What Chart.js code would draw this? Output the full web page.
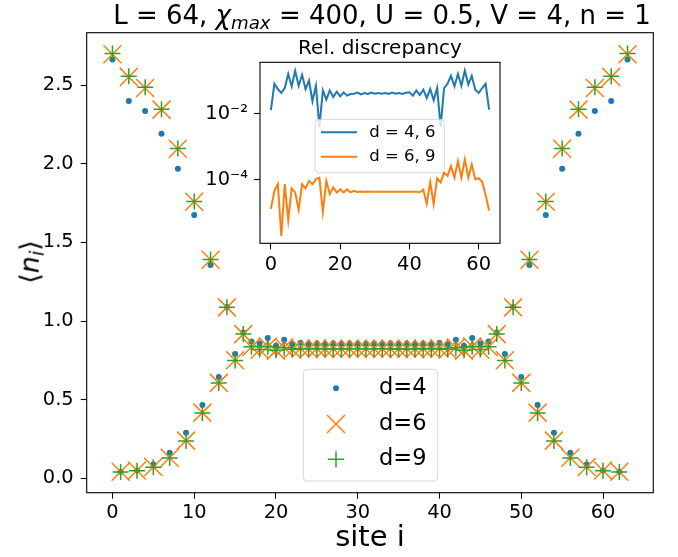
<!DOCTYPE html>
<html>
<head>
<meta charset="utf-8">
<script src="https://cdn.jsdelivr.net/npm/chart.js@4.4.1/dist/chart.umd.min.js"></script>
<style>
    html, body { margin:0; padding:0; background:#fff; }
    #wrap { position:relative; width:678px; height:557px; font-family:"DejaVu Sans", sans-serif; color:#000; overflow:hidden; }
    canvas { position:absolute; }
    #mainChart { left:0; top:0; }
    #insetChart { left:180px; top:30px; }
    .txt { position:absolute; white-space:nowrap; line-height:1; }
    #title { left:0; width:764px; top:2px; text-align:center; font-size:26px; }
    #ylabel { left:31px; top:262px; font-size:27px; transform:translate(-50%,-50%) rotate(-90deg); }
    #insetTitle { left:260px; width:240px; top:37px; text-align:center; font-size:20px; }
    sub { font-size:0.7em; vertical-align:-0.25em; }
</style>
</head>
<body>
<div id="wrap">
    <canvas id="mainChart" width="678" height="557"></canvas>
    <canvas id="insetChart" width="330" height="250"></canvas>
    <div id="title" class="txt">L = 64, <i>χ</i><sub><i>max</i></sub> = 400, U = 0.5, V = 4, n = 1</div>
    <div id="ylabel" class="txt">⟨<i>n</i><sub><i>i</i></sub>⟩</div>
    <div id="insetTitle" class="txt">Rel. discrepancy</div>
</div>
<script>
// -------------------- DATA --------------------
const sites = [0,1,2,3,4,5,6,7,8,9,10,11,12,13,14,15,16,17,18,19,20,21,22,23,24,25,26,27,28,29,30,31,
               32,33,34,35,36,37,38,39,40,41,42,43,44,45,46,47,48,49,50,51,52,53,54,55,56,57,58,59,60,61,62,63];
const xTicks = [0,10,20,30,40,50,60];
const yTicks = [0,0.5,1,1.5,2,2.5];
const yTickLabels = ["0.0","0.5","1.0","1.5","2.0","2.5"];
const mainLabels = ["d=4","d=6","d=9"];

// <n_i> per site
const densD4 = [2.662,0.042,2.399,0.050,2.335,0.089,2.191,0.163,1.968,0.290,1.675,0.467,1.357,0.645,1.090,0.790,
                0.927,0.870,0.857,0.892,0.843,0.881,0.853,0.862,0.855,0.858,0.855,0.857,0.856,0.857,0.856,0.857,
                0.857,0.856,0.857,0.856,0.857,0.855,0.858,0.855,0.862,0.853,0.881,0.843,0.892,0.857,0.870,0.927,
                0.790,1.090,0.645,1.357,0.467,1.675,0.290,1.968,0.163,2.191,0.089,2.335,0.050,2.399,0.042,2.662];
const densD6 = [2.696,0.042,2.552,0.050,2.482,0.072,2.344,0.131,2.095,0.240,1.758,0.418,1.390,0.607,1.087,0.751,
                0.917,0.835,0.818,0.838,0.812,0.832,0.818,0.826,0.821,0.825,0.822,0.824,0.823,0.824,0.823,0.824,
                0.824,0.823,0.824,0.823,0.824,0.822,0.825,0.821,0.826,0.818,0.832,0.812,0.838,0.818,0.835,0.917,
                0.751,1.087,0.607,1.390,0.418,1.758,0.240,2.095,0.131,2.344,0.072,2.482,0.050,2.552,0.042,2.696];
const densD9 = [2.700,0.040,2.556,0.049,2.486,0.070,2.347,0.129,2.097,0.238,1.760,0.416,1.392,0.606,1.088,0.750,
                0.918,0.836,0.820,0.837,0.815,0.830,0.821,0.826,0.822,0.825,0.823,0.824,0.823,0.824,0.824,0.824,
                0.824,0.824,0.824,0.823,0.824,0.823,0.825,0.822,0.826,0.821,0.830,0.815,0.837,0.820,0.836,0.918,
                0.750,1.088,0.606,1.392,0.416,1.760,0.238,2.097,0.129,2.347,0.070,2.486,0.049,2.556,0.040,2.700];

// inset: relative discrepancy
const insetXTicks = [0,20,40,60];
const insetYTicks = [1e-4,1e-2];
const insetYTickLabels = ["10⁻⁴","10⁻²"];
const insetLabels = ["d = 4, 6","d = 6, 9"];
const discD46 = [0.0129,0.0813,0.0562,0.0427,0.0603,0.162,0.0676,0.200,0.0708,0.151,0.0562,0.102,0.0240,0.0708,0.0040,0.0513,
                 0.0269,0.0513,0.0324,0.0468,0.0339,0.0447,0.0355,0.0398,0.0407,0.0437,0.0389,0.0427,0.0398,0.0437,0.0407,0.0427,
                 0.0407,0.0427,0.0398,0.0437,0.0407,0.0427,0.0398,0.0437,0.0447,0.0355,0.0513,0.0372,0.0537,0.0302,0.0562,0.0257,
                 0.0603,0.0040,0.0603,0.0813,0.141,0.0676,0.162,0.0708,0.204,0.0776,0.141,0.0537,0.0427,0.0603,0.0813,0.0135];
const discD69 = [1.32e-5,4.68e-5,7.41e-5,2.0e-6,7.41e-5,6.03e-6,5.50e-5,4.17e-5,1.26e-5,7.41e-5,5.50e-5,9.33e-5,7.41e-5,1.05e-4,1.17e-4,1.05e-5,
                 9.33e-5,3.72e-5,5.89e-5,4.17e-5,5.13e-5,4.17e-5,5.13e-5,4.17e-5,4.68e-5,4.30e-5,4.45e-5,4.30e-5,4.45e-5,4.35e-5,4.40e-5,4.35e-5,
                 4.40e-5,4.35e-5,4.40e-5,4.35e-5,4.40e-5,4.35e-5,4.40e-5,4.35e-5,4.40e-5,4.35e-5,4.40e-5,4.20e-5,5.01e-5,1.86e-5,8.51e-5,1.86e-5,
                 1.12e-4,8.32e-5,1.66e-4,1.32e-4,2.63e-4,1.17e-4,3.72e-4,1.17e-4,4.17e-4,1.17e-4,2.95e-4,1.05e-4,1.12e-4,8.71e-5,3.47e-5,1.17e-5];

const BLUE = "#1f77b4", ORANGE = "#ff7f0e", GREEN = "#2ca02c";

Chart.defaults.font.family = "'DejaVu Sans', sans-serif";
Chart.defaults.color = "#000";

function pts(arr){ return sites.map((s,i)=>({x:s, y:arr[i]})); }

// -------------------- PLUGINS --------------------
// full black box around the axes
const frame = {
    id:"frame",
    beforeDraw(chart){
        const {ctx, chartArea:a} = chart;
        ctx.save(); ctx.fillStyle="#fff"; ctx.fillRect(a.left,a.top,a.right-a.left,a.bottom-a.top); ctx.restore();
    },
    afterDraw(chart){
        const {ctx, chartArea:a} = chart;
        ctx.save();
        ctx.strokeStyle="#000"; ctx.lineWidth=1.1;
        ctx.strokeRect(a.left,a.top,a.right-a.left,a.bottom-a.top);
        ctx.restore();
    }
};

function drawHandle(ctx, kind, color, x, y){
    ctx.save();
    ctx.strokeStyle=color; ctx.fillStyle=color;
    if(kind==="circle"){
        ctx.beginPath(); ctx.arc(x,y,3,0,Math.PI*2); ctx.fill();
    } else if(kind==="crossRot"){
        ctx.lineWidth=1.5; ctx.beginPath();
        ctx.moveTo(x-9,y-9); ctx.lineTo(x+9,y+9); ctx.moveTo(x-9,y+9); ctx.lineTo(x+9,y-9); ctx.stroke();
    } else if(kind==="cross"){
        ctx.lineWidth=1.5; ctx.beginPath();
        ctx.moveTo(x-8,y); ctx.lineTo(x+8,y); ctx.moveTo(x,y-8); ctx.lineTo(x,y+8); ctx.stroke();
    } else {
        ctx.lineWidth=2; ctx.beginPath(); ctx.moveTo(x,y); ctx.lineTo(x+36,y); ctx.stroke();
    }
    ctx.restore();
}

// matplotlib-like legend box
const boxLegend = {
    id:"boxLegend",
    afterDraw(chart, args, o){
        const ctx = chart.ctx;
        ctx.save();
        ctx.beginPath(); ctx.roundRect(o.x,o.y,o.w,o.h,4);
        ctx.fillStyle="rgba(255,255,255,0.8)"; ctx.fill();
        ctx.strokeStyle="rgba(204,204,204,0.8)"; ctx.lineWidth=1; ctx.stroke();
        ctx.font = o.fontSize+"px 'DejaVu Sans'";
        ctx.textBaseline="middle"; ctx.fillStyle="#000";
        chart.data.datasets.forEach((ds,i)=>{
            const y = o.rows[i];
            drawHandle(ctx, o.kinds[i], ds.borderColor, o.handleX, y);
            ctx.fillStyle="#000";
            ctx.fillText(ds.label, o.textX, y);
        });
        ctx.restore();
    }
};

// -------------------- MAIN CHART --------------------
new Chart(document.getElementById("mainChart"), {
    type:"scatter",
    data:{datasets:[
        {label:mainLabels[0], data:pts(densD4), pointStyle:"circle", pointRadius:3, borderColor:BLUE,
         pointBackgroundColor:BLUE, pointBorderWidth:0, order:3},
        {label:mainLabels[1], data:pts(densD6), pointStyle:"crossRot", pointRadius:12.73, borderColor:ORANGE,
         pointBorderColor:ORANGE, pointBorderWidth:1.5, order:2},
        {label:mainLabels[2], data:pts(densD9), pointStyle:"cross", pointRadius:8, borderColor:GREEN,
         pointBorderColor:GREEN, pointBorderWidth:1.5, order:1}
    ]},
    options:{
        responsive:false, animation:false, events:[],
        layout:{padding:{left:0, top:32.7, right:24.7, bottom:0}},
        plugins:{
            legend:{display:false}, tooltip:{enabled:false},
            boxLegend:{x:303.3, y:369.3, w:134.4, h:111.7, rows:[388.3,424,459.3], handleX:336, textX:379,
                       fontSize:22.5, kinds:["circle","crossRot","cross"]}
        },
        scales:{
            x:{type:"linear", min:-3.15, max:66.15,
               afterBuildTicks:s=>{ s.ticks = xTicks.map(v=>({value:v})); },
               afterFit:s=>{ s.height = 64.3; },
               ticks:{font:{size:19.4}, padding:3, maxRotation:0},
               grid:{drawOnChartArea:false, drawTicks:true, tickLength:6, tickWidth:1.1, tickColor:"#000"},
               border:{display:false},
               title:{display:true, text:"site i", font:{size:29}, padding:{top:0,bottom:1}}},
            y:{type:"linear", min:-0.091, max:2.833,
               afterBuildTicks:s=>{ s.ticks = yTicks.map(v=>({value:v})); },
               afterFit:s=>{ s.width = 86.7; },
               ticks:{font:{size:19.4}, padding:7, callback:v=>yTickLabels[yTicks.indexOf(v)]},
               grid:{drawOnChartArea:false, drawTicks:true, tickLength:6, tickWidth:1.1, tickColor:"#000"},
               border:{display:false}}
        }
    },
    plugins:[frame, boxLegend]
});

// -------------------- INSET --------------------
new Chart(document.getElementById("insetChart"), {
    type:"line",
    data:{datasets:[
        {label:insetLabels[0], data:pts(discD46), borderColor:BLUE, borderWidth:2, pointRadius:0, tension:0, fill:false},
        {label:insetLabels[1], data:pts(discD69), borderColor:ORANGE, borderWidth:2, pointRadius:0, tension:0, fill:false}
    ]},
    options:{
        responsive:false, animation:false, events:[],
        layout:{padding:{left:0, top:32.3, right:10, bottom:0}},
        plugins:{
            legend:{display:false}, tooltip:{enabled:false},
            boxLegend:{x:135, y:89.3, w:129.3, h:53.4, rows:[102.3,126.7], handleX:141, textX:189.3,
                       fontSize:16.5, kinds:["line","line"]}
        },
        scales:{
            x:{type:"linear", min:-3.15, max:66.15,
               afterBuildTicks:s=>{ s.ticks = insetXTicks.map(v=>({value:v})); },
               afterFit:s=>{ s.height = 36.7; },
               ticks:{font:{size:19.4}, padding:4, maxRotation:0},
               grid:{drawOnChartArea:false, drawTicks:true, tickLength:6, tickWidth:1.1, tickColor:"#000"},
               border:{display:false}},
            y:{type:"logarithmic", min:1.2e-6, max:0.363,
               afterBuildTicks:s=>{ s.ticks = insetYTicks.map(v=>({value:v})); },
               afterFit:s=>{ s.width = 80; },
               ticks:{font:{size:19.4}, padding:6, callback:v=>insetYTickLabels[insetYTicks.indexOf(v)]},
               grid:{drawOnChartArea:false, drawTicks:true, tickLength:6, tickWidth:1.1, tickColor:"#000"},
               border:{display:false}}
        }
    },
    plugins:[frame, boxLegend]
});
</script>
</body>
</html>
